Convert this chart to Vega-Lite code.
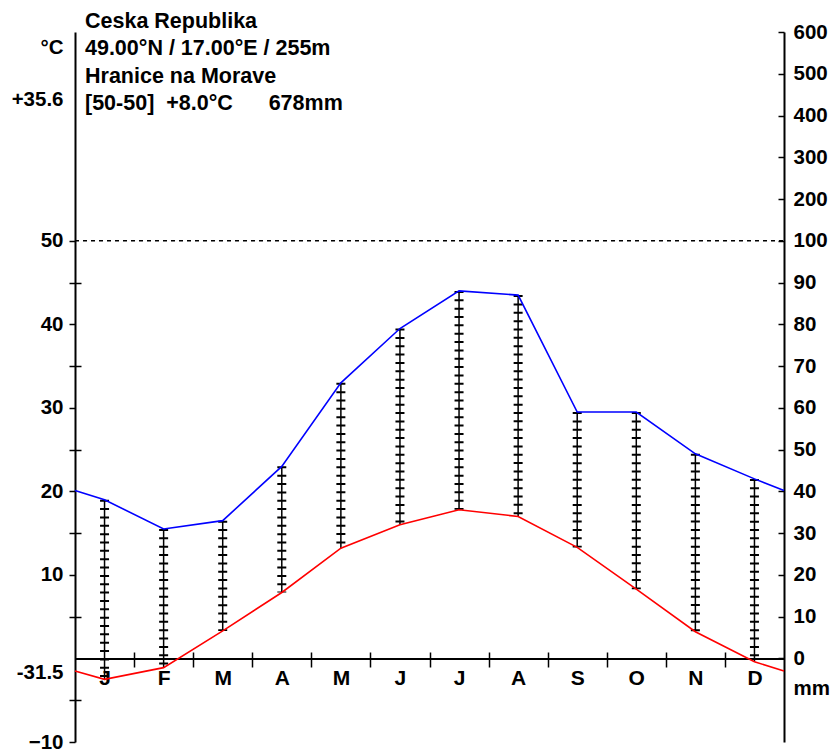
{
  "$schema": "https://vega.github.io/schema/vega-lite/v6.json",
  "width": 709,
  "height": 710,
  "autosize": {"type": "none"},
  "padding": {"left": 75, "top": 32, "right": 48, "bottom": 9},
  "background": "white",
  "config": {
    "view": {"stroke": null},
    "axis": {
      "grid": false,
      "title": null,
      "domainColor": "black",
      "domainWidth": 2,
      "tickColor": "black",
      "tickWidth": 1.5,
      "labelColor": "black",
      "labelFont": "Liberation Sans",
      "labelFontWeight": "bold",
      "labelFontSize": 20.5,
      "labelOverlap": false,
      "labelFlush": false,
      "labelBound": false
    }
  },
  "datasets": {
    "months": [
      {"m": 0.5, "month": "J", "temp": -2.5, "prec": 38},
      {"m": 1.5, "month": "F", "temp": -1.1, "prec": 31},
      {"m": 2.5, "month": "M", "temp": 3.3, "prec": 33},
      {"m": 3.5, "month": "A", "temp": 7.9, "prec": 46},
      {"m": 4.5, "month": "M", "temp": 13.2, "prec": 66},
      {"m": 5.5, "month": "J", "temp": 16.0, "prec": 79},
      {"m": 6.5, "month": "J", "temp": 17.8, "prec": 88},
      {"m": 7.5, "month": "A", "temp": 17.0, "prec": 87},
      {"m": 8.5, "month": "S", "temp": 13.3, "prec": 59},
      {"m": 9.5, "month": "O", "temp": 8.3, "prec": 59},
      {"m": 10.5, "month": "N", "temp": 3.2, "prec": 49},
      {"m": 11.5, "month": "D", "temp": -0.4, "prec": 43}
    ],
    "curve": [
      {"m": 0, "temp": -1.5, "prec": 40.2},
      {"m": 0.5, "temp": -2.5, "prec": 38},
      {"m": 1.5, "temp": -1.1, "prec": 31},
      {"m": 2.5, "temp": 3.3, "prec": 33},
      {"m": 3.5, "temp": 7.9, "prec": 46},
      {"m": 4.5, "temp": 13.2, "prec": 66},
      {"m": 5.5, "temp": 16.0, "prec": 79},
      {"m": 6.5, "temp": 17.8, "prec": 88},
      {"m": 7.5, "temp": 17.0, "prec": 87},
      {"m": 8.5, "temp": 13.3, "prec": 59},
      {"m": 9.5, "temp": 8.3, "prec": 59},
      {"m": 10.5, "temp": 3.2, "prec": 49},
      {"m": 11.5, "temp": -0.4, "prec": 43},
      {"m": 12, "temp": -1.5, "prec": 40.2}
    ]
  },
  "resolve": {"scale": {"x": "independent", "y": "independent"}},
  "layer": [
    {
      "data": {"values": [{}]},
      "mark": {"type": "rule", "color": "black", "strokeWidth": 1.5, "strokeDash": [4, 4]},
      "encoding": {
        "x": {"datum": 0, "type": "quantitative", "scale": {"domain": [0, 12], "nice": false, "zero": false},
          "axis": {"orient": "bottom", "offset": -83.5, "values": [1,2,3,4,5,6,7,8,9,10,11], "tickSize": 8.5, "labels": false, "domain": true}},
        "x2": {"datum": 12},
        "y": {"datum": 50, "type": "quantitative", "scale": {"domain": [-10, 75], "nice": false, "zero": false},
          "axis": {"orient": "left", "values": [-10,-5,5,10,15,20,25,30,35,40,45,50], "tickSize": 6, "labels": false, "domain": true}}
      }
    },
    {
      "data": {"name": "months"},
      "transform": [{"calculate": "datum.prec / 2", "as": "prec_c"}],
      "mark": {"type": "rule", "color": "black", "strokeWidth": 1.5},
      "encoding": {
        "x": {"field": "m", "type": "quantitative", "scale": {"domain": [0, 12], "nice": false, "zero": false},
          "axis": {"orient": "bottom", "offset": -83.5, "values": [1,2,3,4,5,6,7,8,9,10,11], "tickSize": -6.5, "labels": false, "domain": false}},
        "y": {"field": "prec_c", "type": "quantitative", "scale": {"domain": [-10, 75], "nice": false, "zero": false},
          "axis": {"orient": "left", "values": [-5,5,15,25,35,45], "tickSize": -6, "labels": false, "domain": false}},
        "y2": {"field": "temp"}
      }
    },
    {
      "data": {"name": "months"},
      "transform": [{"calculate": "datum.prec / 2", "as": "prec_c"}],
      "mark": {"type": "rule", "color": "black", "strokeWidth": 9, "strokeDash": [2, 6.35]},
      "encoding": {
        "x": {"field": "m", "type": "quantitative", "scale": {"domain": [0, 12], "nice": false, "zero": false},
          "axis": {"orient": "bottom", "offset": -83.5, "values": [0.5,1.5,2.5,3.5,4.5,5.5,6.5,7.5,8.5,9.5,10.5,11.5], "ticks": false, "tickSize": 0, "domain": false, "labelPadding": 9, "labelFontSize": 21,
            "labelExpr": "['J','F','M','A','M','J','J','A','S','O','N','D'][floor(datum.value)]"}},
        "y": {"field": "prec_c", "type": "quantitative", "scale": {"domain": [-10, 75], "nice": false, "zero": false},
          "axis": {"orient": "left", "values": [-10,10,20,30,40,50,-1.62,66.86,73.2], "ticks": false, "tickSize": 0, "domain": false, "labelPadding": 12,
            "labelExpr": "abs(datum.value - round(datum.value)) < 0.001 ? format(datum.value, 'd') : (datum.value < 0 ? '-31.5' : (datum.value < 70 ? '+35.6' : '°C'))"}},
        "y2": {"field": "temp"}
      }
    },
    {
      "data": {"name": "curve"},
      "mark": {"type": "line", "color": "#ff0000", "strokeWidth": 1.6},
      "encoding": {
        "x": {"field": "m", "type": "quantitative", "scale": {"domain": [0, 12], "nice": false, "zero": false}, "axis": null},
        "y": {"field": "temp", "type": "quantitative", "scale": {"domain": [-10, 75], "nice": false, "zero": false},
          "axis": {"orient": "right", "values": [0,5,10,15,20,25,30,35,40,45,50,55,60,65,70,75], "tickSize": -6, "labels": false, "domain": true}}
      }
    },
    {
      "data": {"name": "curve"},
      "mark": {"type": "line", "color": "#0000ff", "strokeWidth": 1.6},
      "encoding": {
        "x": {"field": "m", "type": "quantitative", "scale": {"domain": [0, 12], "nice": false, "zero": false}, "axis": null},
        "y": {"field": "prec", "type": "quantitative", "scale": {"domain": [-20, 150], "nice": false, "zero": false},
          "axis": {"orient": "right", "values": [0,10,20,30,40,50,60,70,80,90,100,110,120,130,140,150,-7.1], "ticks": false, "tickSize": 0, "domain": false, "labelPadding": 9,
            "labelExpr": "datum.value < 0 ? 'mm' : (datum.value <= 100 ? format(datum.value, 'd') : format((datum.value - 100) * 10 + 100, 'd'))"}}
      }
    },
    {
      "data": {"values": [{}]},
      "mark": {"type": "text", "align": "left", "baseline": "alphabetic", "lineHeight": 27.3, "font": "Liberation Sans", "fontWeight": "bold", "fontSize": 21.5, "color": "black",
        "text": ["Ceska Republika", "49.00°N / 17.00°E / 255m", "Hranice na Morave", "[50-50]\u00a0\u00a0+8.0°C\u00a0\u00a0\u00a0\u00a0\u00a0\u00a0678mm"]},
      "encoding": {
        "x": {"datum": 0.169, "type": "quantitative", "scale": {"domain": [0, 12], "nice": false, "zero": false}, "axis": null},
        "y": {"datum": 75.48, "type": "quantitative", "scale": {"domain": [-10, 75], "nice": false, "zero": false}, "axis": null}
      }
    }
  ]
}
